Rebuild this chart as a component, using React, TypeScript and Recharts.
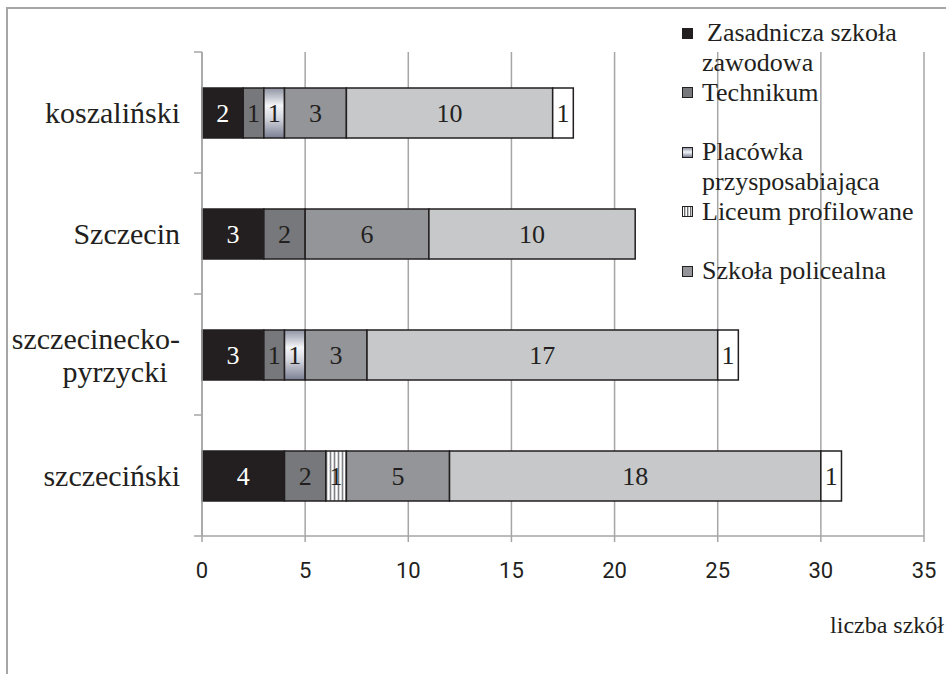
import React from 'react';
import { BarChart, Bar, XAxis, YAxis, CartesianGrid, LabelList } from 'recharts';

const categories = ['koszaliński', 'Szczecin', 'szczecinecko-pyrzycki', 'szczeciński'];
const categoryLines = [['koszaliński'], ['Szczecin'], ['szczecinecko-', 'pyrzycki'], ['szczeciński']];
const zasadnicza = [2, 3, 3, 4];
const technikum = [1, 2, 1, 2];
const placowka = [1, 0, 1, 0];
const liceumProfilowane = [0, 0, 0, 1];
const policealna = [3, 6, 3, 5];
const seria6 = [10, 10, 17, 18];
const seria7 = [1, 0, 1, 1];
const xTicks = [0, 5, 10, 15, 20, 25, 30, 35];
const xAxisTitle = 'liczba szkół';

const series = [
  { key: 'zas', name: 'Zasadnicza szkoła zawodowa', values: zasadnicza, fill: '#231f20', css: '#231f20', label: '#ffffff', legend: true },
  { key: 'tech', name: 'Technikum', values: technikum, fill: '#77787b', css: '#77787b', label: '#231f20', legend: true },
  { key: 'plac', name: 'Placówka przysposabiająca', values: placowka, fill: 'url(#gradPlac)', css: 'linear-gradient(#8e93a3, #f4f5f8 45%, #d5d7df 60%, #7a7f92)', label: '#231f20', legend: true },
  { key: 'lic', name: 'Liceum profilowane', values: liceumProfilowane, fill: 'url(#stripesLic)', css: 'repeating-linear-gradient(90deg, #ffffff 0 1px, #6d6e71 1px 2px, #c7c8ca 2px 3px)', label: '#231f20', legend: true },
  { key: 'pol', name: 'Szkoła policealna', values: policealna, fill: '#939598', css: '#939598', label: '#231f20', legend: true },
  { key: 's6', name: 's6', values: seria6, fill: '#c7c8ca', css: '#c7c8ca', label: '#231f20', legend: false },
  { key: 's7', name: 's7', values: seria7, fill: '#ffffff', css: '#ffffff', label: '#231f20', legend: false },
];

const data = categories.map((c, i) => {
  const row: Record<string, any> = { category: c };
  series.forEach((s) => { row[s.key] = s.values[i]; });
  return row;
});

const SERIF = '"Liberation Serif", "Times New Roman", serif';
const INK = '#231f20';
const GRID = '#a6a6a6';

const YTick = (props: any) => {
  const { x, y, payload, index } = props;
  const idx = categories.indexOf(payload.value);
  const lines = idx >= 0 ? categoryLines[idx] : [String(payload.value)];
  const half = payload.offset ?? 60;
  const lh = 33;
  const start = -((lines.length - 1) * lh) / 2;
  const axisX = x + 22;
  return (
    <g>
      <line x1={axisX - 8} x2={axisX} y1={y - half} y2={y - half} stroke={GRID} strokeWidth={1.5} />
      {index === categories.length - 1 && (
        <line x1={axisX - 8} x2={axisX} y1={y + half} y2={y + half} stroke={GRID} strokeWidth={1.5} />
      )}
      {lines.map((l, i) => (
        <text key={i} x={i === 0 ? x : x - 65} y={y + start + i * lh} textAnchor={i === 0 ? 'end' : 'middle'} dominantBaseline="central"
          fontFamily={SERIF} fontSize={30} fill={INK}>{l}</text>
      ))}
    </g>
  );
};

const makeLabel = (color: string) => (props: any) => {
  const { x, y, width, height, value } = props;
  if (!value) return null;
  return (
    <text x={x + width / 2} y={y + height / 2} textAnchor="middle" dominantBaseline="central"
      fontFamily={SERIF} fontSize={26} fill={color}>{value}</text>
  );
};

const LegendBox = () => (
  <div style={{ position: 'absolute', left: 682, top: 18, width: 264, fontFamily: SERIF, fontSize: 26, color: INK, lineHeight: '29.5px' }}>
    {series.filter((s) => s.legend).map((s, i) => (
      <div key={s.key} style={{ position: 'relative', height: 59.5, paddingLeft: 20, width: 244 }}>
        <div style={{ position: 'absolute', left: 0, top: 9.5, width: 9, height: 9, border: `1px solid ${INK}`, background: s.css }} />
        <div style={{ paddingLeft: i === 0 ? 5 : 0 }}>{i === 0 ? (
          <><span>{s.name.split(' ').slice(0, 2).join(' ')}</span><br /><span style={{ marginLeft: -5 }}>{s.name.split(' ').slice(2).join(' ')}</span></>
        ) : s.name}</div>
      </div>
    ))}
  </div>
);

export default function App() {
  return (
    <div style={{ position: 'absolute', left: 0, top: 0, width: 946, height: 674, overflow: 'hidden', background: '#fff' }}>
      <div style={{ position: 'absolute', left: 6, top: 7, width: 2000, height: 2000, borderTop: `2px solid ${GRID}`, borderLeft: `2px solid ${GRID}` }} />
      <div style={{ position: 'absolute', left: 0, top: 0 }}>
        <BarChart width={946} height={674} data={data} layout="vertical"
          margin={{ top: 52, right: 22, bottom: 98, left: 8 }} barCategoryGap={0}>
          <defs>
            <linearGradient id="gradPlac" x1="0" y1="0" x2="0" y2="1">
              <stop offset="0%" stopColor="#8e93a3" />
              <stop offset="35%" stopColor="#f4f5f8" />
              <stop offset="60%" stopColor="#d5d7df" />
              <stop offset="100%" stopColor="#7a7f92" />
            </linearGradient>
            <pattern id="stripesLic" width="4" height="10" patternUnits="userSpaceOnUse">
              <rect width="4" height="10" fill="#d6d7d9" />
              <rect x="0" width="1" height="10" fill="#ffffff" />
              <rect x="2" width="1" height="10" fill="#808285" />
            </pattern>
          </defs>
          <CartesianGrid horizontal={false} vertical={true} stroke={GRID} strokeWidth={1.5} />
          <XAxis type="number" domain={[0, 35]} ticks={xTicks} height={40}
            axisLine={{ stroke: GRID, strokeWidth: 1.5 }} tickLine={{ stroke: GRID, strokeWidth: 1.5 }}
            tickSize={6} tickMargin={20}
            tick={{ fontFamily: 'Roboto, "Open Sans", sans-serif', fontSize: 22, fill: INK }} />
          <YAxis type="category" dataKey="category" width={194} tickLine={false} tickSize={8} tickMargin={14}
            axisLine={{ stroke: GRID, strokeWidth: 1.5 }} tick={<YTick />} interval={0} />
          {series.map((s) => (
            <Bar key={s.key} dataKey={s.key} name={s.name} stackId="a" fill={s.fill} stroke={INK} strokeWidth={1.5}
              barSize={50} isAnimationActive={false} legendType={s.legend ? 'square' : 'none'}>
              <LabelList dataKey={s.key} content={makeLabel(s.label)} />
            </Bar>
          ))}
        </BarChart>
      </div>
      <LegendBox />
      <div style={{ position: 'absolute', right: 2, top: 611, fontFamily: SERIF, fontSize: 24, color: INK, lineHeight: '28px' }}>{xAxisTitle}</div>
    </div>
  );
}
